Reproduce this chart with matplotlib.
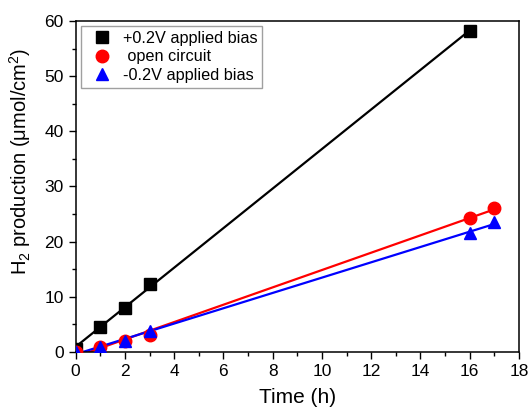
import numpy as np
import matplotlib
matplotlib.use("Agg")
import matplotlib.pyplot as plt
from matplotlib.ticker import MultipleLocator

plt.rcParams['font.family'] = ['Liberation Sans', 'DejaVu Sans']
plt.rcParams['mathtext.fontset'] = 'custom'
plt.rcParams['mathtext.rm'] = 'Liberation Sans'
plt.rcParams['mathtext.it'] = 'Liberation Sans:italic'

# Data
t_pos = [0, 1, 2, 3, 16]
h_pos = [0.5, 4.5, 8.0, 12.3, 58.2]
t_open = [0, 1, 2, 3, 16, 17]
h_open = [0.0, 0.8, 1.9, 3.0, 24.3, 26.0]
t_neg = [0, 1, 2, 3, 16, 17]
h_neg = [0.0, 0.8, 2.0, 3.8, 21.5, 23.5]

labels = ['+0.2V applied bias', ' open circuit', '-0.2V applied bias']

fig = plt.figure(figsize=(5.29, 4.12), dpi=100)
ax = fig.add_axes([0.143, 0.146, 0.838, 0.803])

series = [(t_pos, h_pos, 'black', 's', labels[0], 8),
          (t_open, h_open, 'red', 'o', labels[1], 9),
          (t_neg, h_neg, 'blue', '^', labels[2], 9)]
handles = []
for t, h, c, m, lab, ms in series:
    t = np.array(t, float); h = np.array(h, float)
    k, b = np.polyfit(t, h, 1)
    xs = np.array([0, t.max()])
    ax.plot(xs, k * xs + b, color=c, lw=1.6, zorder=2)
    hnd, = ax.plot(t, h, linestyle='none', marker=m, color=c, ms=ms, label=lab, zorder=3)
    handles.append(hnd)

ax.set_xlim(0, 18)
ax.set_ylim(0, 60)
ax.xaxis.set_major_locator(MultipleLocator(2))
ax.xaxis.set_minor_locator(MultipleLocator(1))
ax.yaxis.set_major_locator(MultipleLocator(10))
ax.yaxis.set_minor_locator(MultipleLocator(5))
ax.tick_params(which='both', direction='out', labelsize=12.5, width=1, top=False, right=False)
ax.tick_params(which='major', length=5)
ax.tick_params(which='minor', length=3)
for s in ax.spines.values():
    s.set_linewidth(1.1)

ax.set_xlabel('Time (h)', fontsize=15, labelpad=7)
ax.set_ylabel('H$_2$ production (\u03bcmol/cm$^2$)', fontsize=14.5)
ax.yaxis.set_label_coords(-0.097, 0.575)

leg = ax.legend(handles=handles, loc='upper left', fontsize=11.7, frameon=True, fancybox=False,
                edgecolor='#888888', borderaxespad=0.3, handletextpad=0.3, labelspacing=0.22,
                borderpad=0.3, handlelength=2.0)
leg.get_frame().set_linewidth(1.0)

fig.savefig('out.png', dpi=100)
